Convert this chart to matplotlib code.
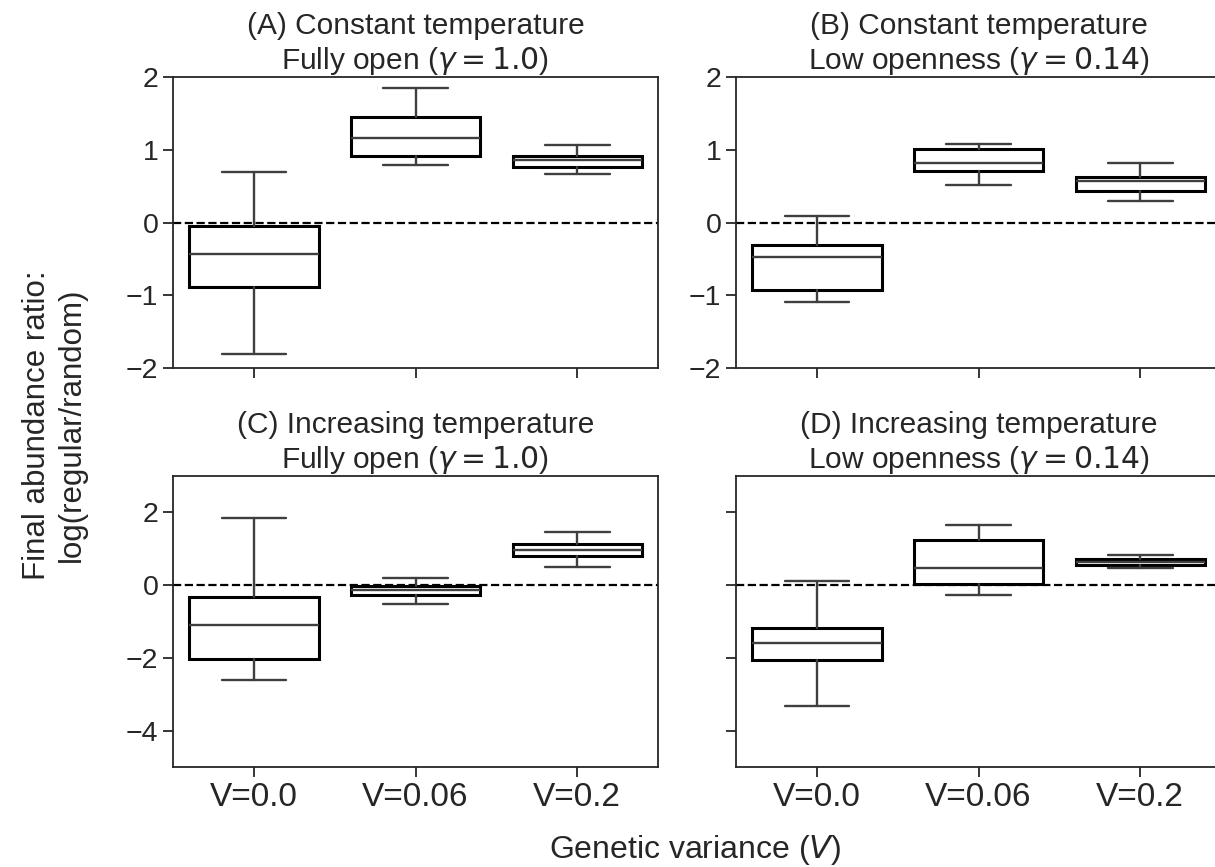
import matplotlib
matplotlib.use("Agg")
import matplotlib.pyplot as plt
import seaborn as sns

sns.set_style("ticks")
plt.rcParams['font.family'] = ['Liberation Sans', 'DejaVu Sans']

labels = ["V=0.0", "V=0.06", "V=0.2"]

# box stats: whisker low, q1, median, q3, whisker high
a_stats = [(-1.81, -0.88, -0.435, -0.045, 0.69),
           (0.79, 0.917, 1.155, 1.45, 1.85),
           (0.665, 0.76, 0.86, 0.91, 1.07)]
b_stats = [(-1.09, -0.93, -0.48, -0.31, 0.083),
           (0.515, 0.71, 0.82, 1.01, 1.08),
           (0.29, 0.43, 0.574, 0.625, 0.82)]
c_stats = [(-2.61, -2.03, -1.09, -0.34, 1.85),
           (-0.51, -0.27, -0.14, -0.02, 0.19),
           (0.49, 0.81, 0.97, 1.13, 1.46)]
d_stats = [(-3.32, -2.05, -1.58, -1.17, 0.12),
           (-0.26, 0.04, 0.47, 1.24, 1.65),
           (0.46, 0.56, 0.64, 0.71, 0.82)]

titles = ["(A) Constant temperature\nFully open ($\\gamma = 1.0$)",
          "(B) Constant temperature\nLow openness ($\\gamma = 0.14$)",
          "(C) Increasing temperature\nFully open ($\\gamma = 1.0$)",
          "(D) Increasing temperature\nLow openness ($\\gamma = 0.14$)"]

fig = plt.figure(figsize=(12.15, 8.67), dpi=100)
ax_a = fig.add_axes([0.1424, 0.5755, 0.3992, 0.3357])
ax_b = fig.add_axes([0.6058, 0.5755, 0.3992, 0.3357])
ax_c = fig.add_axes([0.1424, 0.1153, 0.3992, 0.3357])
ax_d = fig.add_axes([0.6058, 0.1153, 0.3992, 0.3357], sharey=ax_c)

gray = "#3f3f3f"
for ax, stats, title in zip([ax_a, ax_b, ax_c, ax_d],
                            [a_stats, b_stats, c_stats, d_stats], titles):
    bx = []
    for lo, q1, med, q3, hi in stats:
        bx.append(dict(whislo=lo, q1=q1, med=med, q3=q3, whishi=hi, fliers=[]))
    ax.bxp(bx, positions=range(len(stats)), widths=0.8, showfliers=False,
           patch_artist=True,
           boxprops=dict(facecolor="white", edgecolor="black", linewidth=2.2),
           whiskerprops=dict(color=gray, linewidth=1.7),
           capprops=dict(color=gray, linewidth=1.7),
           medianprops=dict(color=gray, linewidth=1.7))
    ax.axhline(0, color="black", ls="--", lw=1.6, zorder=0.5)
    ax.set_xlim(-0.5, 2.5)
    ax.set_xticks(range(3))
    ax.set_title(title, fontsize=21.5, linespacing=1.22, pad=5)
    ax.tick_params(axis="y", labelsize=20.5, length=7, width=1.3)
    ax.tick_params(axis="x", labelsize=24, length=7, width=1.3)
    for s in ax.spines.values():
        s.set_linewidth(1.3)

for ax in [ax_a, ax_b]:
    ax.set_ylim(-2, 2)
    ax.set_yticks([-2, -1, 0, 1, 2])
    ax.set_xticklabels([])
ax_c.set_ylim(-5, 3)
ax_c.set_yticks([-4, -2, 0, 2])
for ax in [ax_c, ax_d]:
    ax.set_xticklabels(labels)
plt.setp(ax_d.get_yticklabels(), visible=False)

fig.text(0.572, 0.02, "Genetic variance ($V$)", ha="center", va="center", fontsize=23)
fig.text(0.045, 0.51, "Final abundance ratio:\nlog(regular/random)", ha="center",
         va="center", rotation=90, fontsize=22.5)

fig.savefig("out.png", dpi=100)
